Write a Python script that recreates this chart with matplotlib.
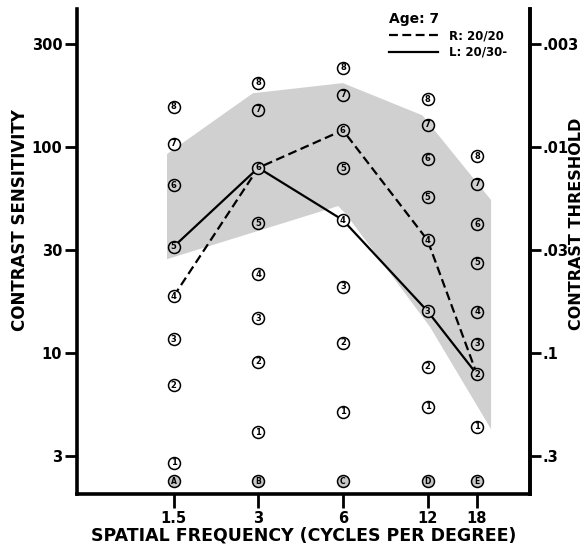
import matplotlib.pyplot as plt
from matplotlib.lines import Line2D
from matplotlib.ticker import NullLocator

plt.rcParams['font.family'] = 'DejaVu Sans'
plt.rcParams['font.weight'] = 'bold'
plt.rcParams['axes.labelweight'] = 'bold'

freqs = [1.5, 3, 6, 12, 18]
freq_labels = ['1.5', '3', '6', '12', '18']
card_letters = ['A', 'B', 'C', 'D', 'E']
card_letter_cs = 2.39

# contrast sensitivity of card steps 1..8 at each frequency
steps_1_5 = [2.94, 7.0, 11.7, 18.9, 32.9, 65.5, 104, 157]
steps_3 = [4.12, 9.07, 14.8, 24.2, 42.8, 79.5, 152, 206]
steps_6 = [5.19, 11.2, 21.0, 44.3, 79.0, 121, 180, 243]
steps_12 = [5.48, 8.58, 16.0, 35.4, 57.3, 88, 129, 171]
steps_18 = [4.39, 7.88, 11.1, 15.9, 27.5, 42.3, 66.5, 90.6]
columns = [steps_1_5, steps_3, steps_6, steps_12, steps_18]

# step reached by each eye
right_eye = [4, 6, 6, 4, 2]   # R: 20/20
left_eye = [5, 6, 4, 3, 2]    # L: 20/30-

# normal range (grey band)
band_upper_f = [1.42, 2.87, 6.0, 11.5, 20.2]
band_upper_cs = [92.7, 183, 205, 143, 55.4]
band_lower_f = [1.42, 5.77, 6.15, 12.25, 20.2]
band_lower_cs = [28.6, 51.8, 47.4, 13.4, 4.27]

cs_ticks = [316, 100, 31.6, 10, 3.16]
cs_tick_labels = ['300', '100', '30', '10', '3']
thr_ticks = [0.00316, 0.01, 0.0316, 0.1, 0.316]
thr_tick_labels = ['.003', '.01', '.03', '.1', '.3']

fig = plt.figure(figsize=(5.87, 5.47), dpi=100)
ax = fig.add_axes([0.132, 0.097, 0.771, 0.886])
ax.set_xscale('log')
ax.set_yscale('log')
ax.set_xlim(0.682, 27.8)
ax.set_ylim(2.07, 468)

poly_x = band_upper_f + band_lower_f[::-1]
poly_y = band_upper_cs + band_lower_cs[::-1]
band = ax.fill(poly_x, poly_y, color='#d0d0d0', lw=0, zorder=1)[0]

r_cs = [col[s - 1] for col, s in zip(columns, right_eye)]
l_cs = [col[s - 1] for col, s in zip(columns, left_eye)]
ax.plot(freqs, r_cs, color='black', lw=1.6, ls=(0, (4, 2)), zorder=2)
ax.plot(freqs, l_cs, color='black', lw=1.6, zorder=2)

band_path = band.get_path()
for f, col, letter in zip(freqs, columns, card_letters):
    for i, cs in enumerate(col):
        inside = band_path.contains_point(ax.transData.transform((f, cs)),
                                          transform=band.get_transform())
        face = '#d0d0d0' if inside else 'white'
        ax.plot([f], [cs], 'o', ms=8.6, mfc=face, mec='black', mew=1.1, zorder=3)
        ax.text(f, cs, str(i + 1), ha='center', va='center', fontsize=6, zorder=4)
    ax.plot([f], [card_letter_cs], 'o', ms=8.6, mfc='#c8c8c8', mec='black', mew=1.1, zorder=3)
    ax.text(f, card_letter_cs, letter, ha='center', va='center', fontsize=5.5, zorder=4)

for s in ['left', 'bottom', 'right']:
    ax.spines[s].set_linewidth(2.6)
ax.spines['top'].set_visible(False)

ax.set_xticks(freqs, freq_labels)
ax.xaxis.set_minor_locator(NullLocator())
ax.set_yticks(cs_ticks, cs_tick_labels)
ax.yaxis.set_minor_locator(NullLocator())
ax.tick_params(axis='x', length=10, width=2, labelsize=10.5, pad=2)
ax.tick_params(axis='y', length=9, width=2, labelsize=10.5, pad=2)

sec = ax.secondary_yaxis('right', functions=(lambda v: 1 / v, lambda v: 1 / v))
sec.set_yticks(thr_ticks, thr_tick_labels)
sec.yaxis.set_minor_locator(NullLocator())
sec.tick_params(length=8, width=2, labelsize=10.5, pad=1)
sec.spines['right'].set_linewidth(2.6)

ax.set_xlabel('SPATIAL FREQUENCY (CYCLES PER DEGREE)', fontsize=12.5, fontweight='bold')
ax.xaxis.set_label_coords(0.5, -0.068)
fig.text(0.034, 0.598, 'CONTRAST SENSITIVITY', rotation=90, ha='center', va='center', fontsize=12)
fig.text(0.982, 0.59, 'CONTRAST THRESHOLD', rotation=90, ha='center', va='center', fontsize=11.5)

handles = [Line2D([], [], color='black', lw=1.6, ls=(0, (4, 2))),
           Line2D([], [], color='black', lw=1.6)]
ax.legend(handles, ['R: 20/20', 'L: 20/30-'], title='Age: 7', loc='upper left',
          bbox_to_anchor=(0.688, 0.995), frameon=False, fontsize=8.5,
          title_fontproperties={'weight': 'bold', 'size': 10}, alignment='left',
          handlelength=4.2, handletextpad=0.9, labelspacing=0.3, borderpad=0,
          borderaxespad=0)

fig.savefig('out.png', dpi=100)
